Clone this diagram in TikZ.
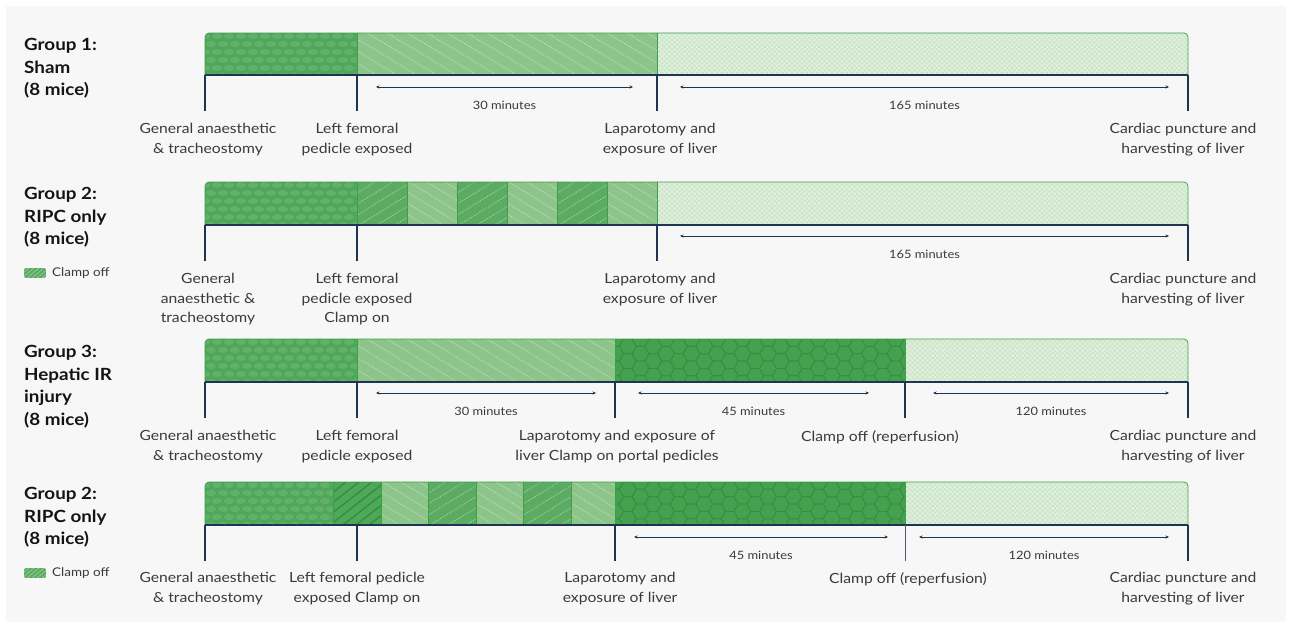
\documentclass[tikz,border=0pt]{standalone}
\usepackage{fontspec}
\setmainfont{Lato}[FakeStretch=1.12]
\usetikzlibrary{arrows.meta}

\definecolor{bgc}{HTML}{F7F7F7}
\definecolor{darkG}{HTML}{4FA75A}
\definecolor{clampG}{HTML}{5CAB62}
\definecolor{lightG}{HTML}{8CC48A}
\definecolor{paleG}{HTML}{CCE6C9}
\definecolor{hexG}{HTML}{45A14F}
\definecolor{hexL}{HTML}{36913F}
\definecolor{hatchG}{HTML}{2F8F3C}
\definecolor{segline}{HTML}{3E9E4B}
\definecolor{navy}{HTML}{1C3550}
\definecolor{txt}{HTML}{3A3A3A}

\tikzset{
  lbl/.style={font=\fontsize{14}{19.5}\selectfont, text=txt, align=center, anchor=north, inner sep=0pt},
  grp/.style={font=\fontsize{16.8}{22.5}\selectfont\bfseries, text=black!92, align=left, anchor=north west, inner sep=0pt},
  mins/.style={font=\fontsize{11.5}{13}\selectfont, text=txt, inner sep=0pt},
  legtxt/.style={font=\fontsize{12}{14}\selectfont, text=txt, anchor=west, inner sep=0pt},
  tickline/.style={draw=navy, line width=2pt},
  thintick/.style={draw=navy!80, line width=1pt},
  baseline/.style={draw=navy, line width=2.6pt},
  spanline/.style={draw=navy, line width=0.7pt, {Stealth[length=3.5pt,width=3pt]}-{Stealth[length=3.5pt,width=3pt]}},
  edge/.style={draw=segline, line width=0.7pt},
  dots/.style={draw=white, opacity=0.5, line width=0.8pt, dash pattern=on 0.9pt off 1.1pt},
  heavy/.style={draw=hatchG, line width=1.3pt},
  hexline/.style={draw=hexL, line width=0.8pt},
  latt/.style={draw=white, opacity=0.6, line width=0.45pt},
}

% faint scales on the dark green segments
\newcommand\txscales[4]{%
  \begin{scope}
    \clip (#1,#3) rectangle (#2,#4);
    \foreach \j in {0,...,5}{
      \foreach \i in {0,...,14}{
        \fill[white,opacity=0.11] ({#1+\i*12+mod(\j,2)*6},{#3+\j*8+3}) ellipse (5pt and 3pt);
      }}
  \end{scope}}
% dotted white lines falling to the right
\newcommand\txdown[5]{%
  \begin{scope}
    \clip (#1,#3) rectangle (#2,#4);
    \pgfmathsetmacro\xs{#1-70}\pgfmathsetmacro\xn{#1-70+#5}%
    \foreach \x in {\xs,\xn,...,#2}{\draw[dots] (\x,#3) -- ++(70,#4-#3);}
  \end{scope}}
% dotted white lines rising to the right
\newcommand\txup[5]{%
  \begin{scope}
    \clip (#1,#3) rectangle (#2,#4);
    \pgfmathsetmacro\xs{#1-70}\pgfmathsetmacro\xn{#1-70+#5}%
    \foreach \x in {\xs,\xn,...,#2}{\draw[dots] (\x,#4) -- ++(70,#3-#4);}
  \end{scope}}
% solid dark hatching
\newcommand\txheavy[4]{%
  \begin{scope}
    \clip (#1,#3) rectangle (#2,#4);
    \pgfmathsetmacro\xs{#1-55}\pgfmathsetmacro\xn{#1-42}%
    \foreach \x in {\xs,\xn,...,#2}{\draw[heavy] (\x,#4) -- ++(55,#3-#4);}
  \end{scope}}
% honeycomb
\newcommand\txhex[4]{%
  \begin{scope}
    \clip (#1,#3) rectangle (#2,#4);
    \foreach \i in {0,...,24}{
      \foreach \j in {-1,...,3}{
        \pgfmathsetmacro\cx{#1+\i*12.75}
        \pgfmathsetmacro\cy{#3+\j*14.72+mod(\i,2)*7.36}
        \draw[hexline] (\cx+8.5,\cy) -- ++(120:8.5) -- ++(180:8.5) -- ++(240:8.5)
          -- ++(300:8.5) -- ++(0:8.5) -- cycle;
      }}
  \end{scope}}
% fine lattice on the pale segments
\newcommand\txlattice[4]{%
  \begin{scope}
    \clip (#1,#3) rectangle (#2,#4);
    \pgfmathsetmacro\xs{#1-45}\pgfmathsetmacro\xn{#1-40}%
    \foreach \x in {\xs,\xn,...,#2}{
      \draw[latt] (\x,#3) -- ++(45,#4-#3);
      \draw[latt] (\x,#4) -- ++(45,#3-#4);}
  \end{scope}}
% tick below the time line
\newcommand\tickmark[4][tickline]{%
  \coordinate (#2t) at (#3,#4);
  \coordinate (#2b) at (#3,#4+36);
  \draw[#1] (#2t) -- (#2b);}
% duration arrow with its label
\newcommand\spanarrow[5]{%
  \coordinate (#1s) at (#2,#4);
  \coordinate (#1e) at (#3,#4);
  \draw[spanline] (#1s) -- (#1e);
  \path (#1s) -- (#1e) node[mins, midway, yshift=-18pt] (#1l) {#5};}
% legend swatch
\newcommand\legend[2]{%
  \begin{scope}
    \clip[rounded corners=1.5pt] (24,#2-5) rectangle (46,#2+5);
    \fill[clampG] (24,#2-5) rectangle (46,#2+5);
    \foreach \x in {12,17,...,46}{\draw[white,opacity=0.35,line width=0.8pt] (\x,#2+5) -- ++(12,-10);}
  \end{scope}
  \node[legtxt] (#1) at (52,#2) {Clamp off};}

\begin{document}
\begin{tikzpicture}[x=1pt,y=-1pt]
\useasboundingbox (0,0) rectangle (1292,628);
\fill[white] (0,0) rectangle (1292,628);
\fill[bgc] (6,6) rectangle (1286,622);

%% ---------------- Group 1 ----------------
\node[grp] (g1) at (24,38.5) {Group 1:\\Sham\\(8 mice)};
\begin{scope}
  \clip[rounded corners=4pt] (205,33) rectangle (1188,82);
  \fill[darkG] (205,33) rectangle (357,75);  \txscales{205}{357}{33}{75}
  \fill[lightG] (357,33) rectangle (657,75); \txdown{357}{657}{33}{75}{20}
  \fill[paleG] (657,33) rectangle (1188,75); \txlattice{657}{1188}{33}{75}
\end{scope}
\draw[edge, rounded corners=4pt] (205,75) -- (205,33) -- (1188,33) -- (1188,75);
\foreach \x in {357,657}{\draw[edge] (\x,33) -- (\x,75);}
\coordinate (r1s) at (205,75); \coordinate (r1e) at (1188,75);
\draw[baseline] (r1s) -- (r1e);
\tickmark{k1a}{205}{75}\tickmark{k1b}{357}{75}\tickmark{k1c}{657}{75}\tickmark{k1d}{1188}{75}
\spanarrow{a1a}{376}{633}{87}{30 minutes}
\spanarrow{a1b}{680}{1169}{87}{165 minutes}
\node[lbl] (l1a) at (208,123) {General anaesthetic\\\& tracheostomy};
\node[lbl] (l1b) at (357,123) {Left femoral\\pedicle exposed};
\node[lbl] (l1c) at (660,123) {Laparotomy and\\exposure of liver};
\node[lbl] (l1d) at (1183,123) {Cardiac puncture and\\harvesting of liver};

%% ---------------- Group 2 ----------------
\node[grp] (g2) at (24,187.5) {Group 2:\\RIPC only\\(8 mice)};
\legend{leg2}{273}
\begin{scope}
  \clip[rounded corners=4pt] (205,182) rectangle (1188,231);
  \fill[darkG] (205,182) rectangle (357,225);  \txscales{205}{357}{182}{225}
  \fill[clampG] (357,182) rectangle (407,225); \txup{357}{407}{182}{225}{18}
  \fill[lightG] (407,182) rectangle (457,225); \txdown{407}{457}{182}{225}{18}
  \fill[clampG] (457,182) rectangle (507,225); \txup{457}{507}{182}{225}{18}
  \fill[lightG] (507,182) rectangle (557,225); \txdown{507}{557}{182}{225}{18}
  \fill[clampG] (557,182) rectangle (607,225); \txup{557}{607}{182}{225}{18}
  \fill[lightG] (607,182) rectangle (657,225); \txdown{607}{657}{182}{225}{18}
  \fill[paleG] (657,182) rectangle (1188,225); \txlattice{657}{1188}{182}{225}
\end{scope}
\draw[edge, rounded corners=4pt] (205,225) -- (205,182) -- (1188,182) -- (1188,225);
\foreach \x in {357,407,457,507,557,607,657}{\draw[edge] (\x,182) -- (\x,225);}
\coordinate (r2s) at (205,225); \coordinate (r2e) at (1188,225);
\draw[baseline] (r2s) -- (r2e);
\tickmark{k2a}{205}{225}\tickmark{k2b}{357}{225}\tickmark{k2c}{657}{225}\tickmark{k2d}{1188}{225}
\spanarrow{a2a}{680}{1169}{236}{165 minutes}
\node[lbl] (l2a) at (208,273) {General\\anaesthetic \&\\tracheostomy};
\node[lbl] (l2b) at (357,273) {Left femoral\\pedicle exposed\\Clamp on};
\node[lbl] (l2c) at (660,273) {Laparotomy and\\exposure of liver};
\node[lbl] (l2d) at (1183,273) {Cardiac puncture and\\harvesting of liver};

%% ---------------- Group 3 ----------------
\node[grp] (g3) at (24,345.5) {Group 3:\\Hepatic IR\\injury\\(8 mice)};
\begin{scope}
  \clip[rounded corners=4pt] (205,339) rectangle (1188,388);
  \fill[darkG] (205,339) rectangle (357,382);  \txscales{205}{357}{339}{382}
  \fill[lightG] (357,339) rectangle (615,382); \txdown{357}{615}{339}{382}{20}
  \fill[hexG] (615,339) rectangle (905,382);   \txhex{615}{905}{339}{382}
  \fill[paleG] (905,339) rectangle (1188,382); \txlattice{905}{1188}{339}{382}
\end{scope}
\draw[edge, rounded corners=4pt] (205,382) -- (205,339) -- (1188,339) -- (1188,382);
\foreach \x in {357,615,905}{\draw[edge] (\x,339) -- (\x,382);}
\coordinate (r3s) at (205,382); \coordinate (r3e) at (1188,382);
\draw[baseline] (r3s) -- (r3e);
\tickmark{k3a}{205}{382}\tickmark{k3b}{357}{382}\tickmark{k3c}{615}{382}\tickmark{k3d}{905}{382}\tickmark{k3e}{1188}{382}
\spanarrow{a3a}{376}{596}{393}{30 minutes}
\spanarrow{a3b}{638}{869}{393}{45 minutes}
\spanarrow{a3c}{933}{1169}{393}{120 minutes}
\node[lbl] (l3a) at (208,430) {General anaesthetic\\\& tracheostomy};
\node[lbl] (l3b) at (357,430) {Left femoral\\pedicle exposed};
\node[lbl] (l3c) at (617,430) {Laparotomy and exposure of\\liver Clamp on portal pedicles};
\node[lbl] (l3d) at (880,430) {Clamp off (reperfusion)};
\node[lbl] (l3e) at (1183,430) {Cardiac puncture and\\harvesting of liver};

%% ---------------- Group 4 ----------------
\node[grp] (g4) at (24,487.5) {Group 2:\\RIPC only\\(8 mice)};
\legend{leg4}{573}
\begin{scope}
  \clip[rounded corners=4pt] (205,482) rectangle (1188,531);
  \fill[darkG] (205,482) rectangle (333,525);  \txscales{205}{333}{482}{525}
  \fill[darkG] (333,482) rectangle (381,525);  \txheavy{333}{381}{482}{525}
  \fill[lightG] (381,482) rectangle (428,525); \txdown{381}{428}{482}{525}{18}
  \fill[clampG] (428,482) rectangle (476,525); \txup{428}{476}{482}{525}{18}
  \fill[lightG] (476,482) rectangle (523,525); \txdown{476}{523}{482}{525}{18}
  \fill[clampG] (523,482) rectangle (571,525); \txup{523}{571}{482}{525}{18}
  \fill[lightG] (571,482) rectangle (615,525); \txdown{571}{615}{482}{525}{18}
  \fill[hexG] (615,482) rectangle (905,525);   \txhex{615}{905}{482}{525}
  \fill[paleG] (905,482) rectangle (1188,525); \txlattice{905}{1188}{482}{525}
\end{scope}
\draw[edge, rounded corners=4pt] (205,525) -- (205,482) -- (1188,482) -- (1188,525);
\foreach \x in {333,381,428,476,523,571,615,905}{\draw[edge] (\x,482) -- (\x,525);}
\coordinate (r4s) at (205,525); \coordinate (r4e) at (1188,525);
\draw[baseline] (r4s) -- (r4e);
\tickmark{k4a}{205}{525}\tickmark{k4b}{357}{525}\tickmark{k4c}{615}{525}\tickmark[thintick]{k4d}{905}{525}\tickmark{k4e}{1188}{525}
\spanarrow{a4a}{634}{888}{537}{45 minutes}
\spanarrow{a4b}{919}{1169}{537}{120 minutes}
\node[lbl] (l4a) at (208,572) {General anaesthetic\\\& tracheostomy};
\node[lbl] (l4b) at (357,572) {Left femoral pedicle\\exposed Clamp on};
\node[lbl] (l4c) at (620,572) {Laparotomy and\\exposure of liver};
\node[lbl] (l4d) at (908,572) {Clamp off (reperfusion)};
\node[lbl] (l4e) at (1183,572) {Cardiac puncture and\\harvesting of liver};
\end{tikzpicture}
\end{document}
